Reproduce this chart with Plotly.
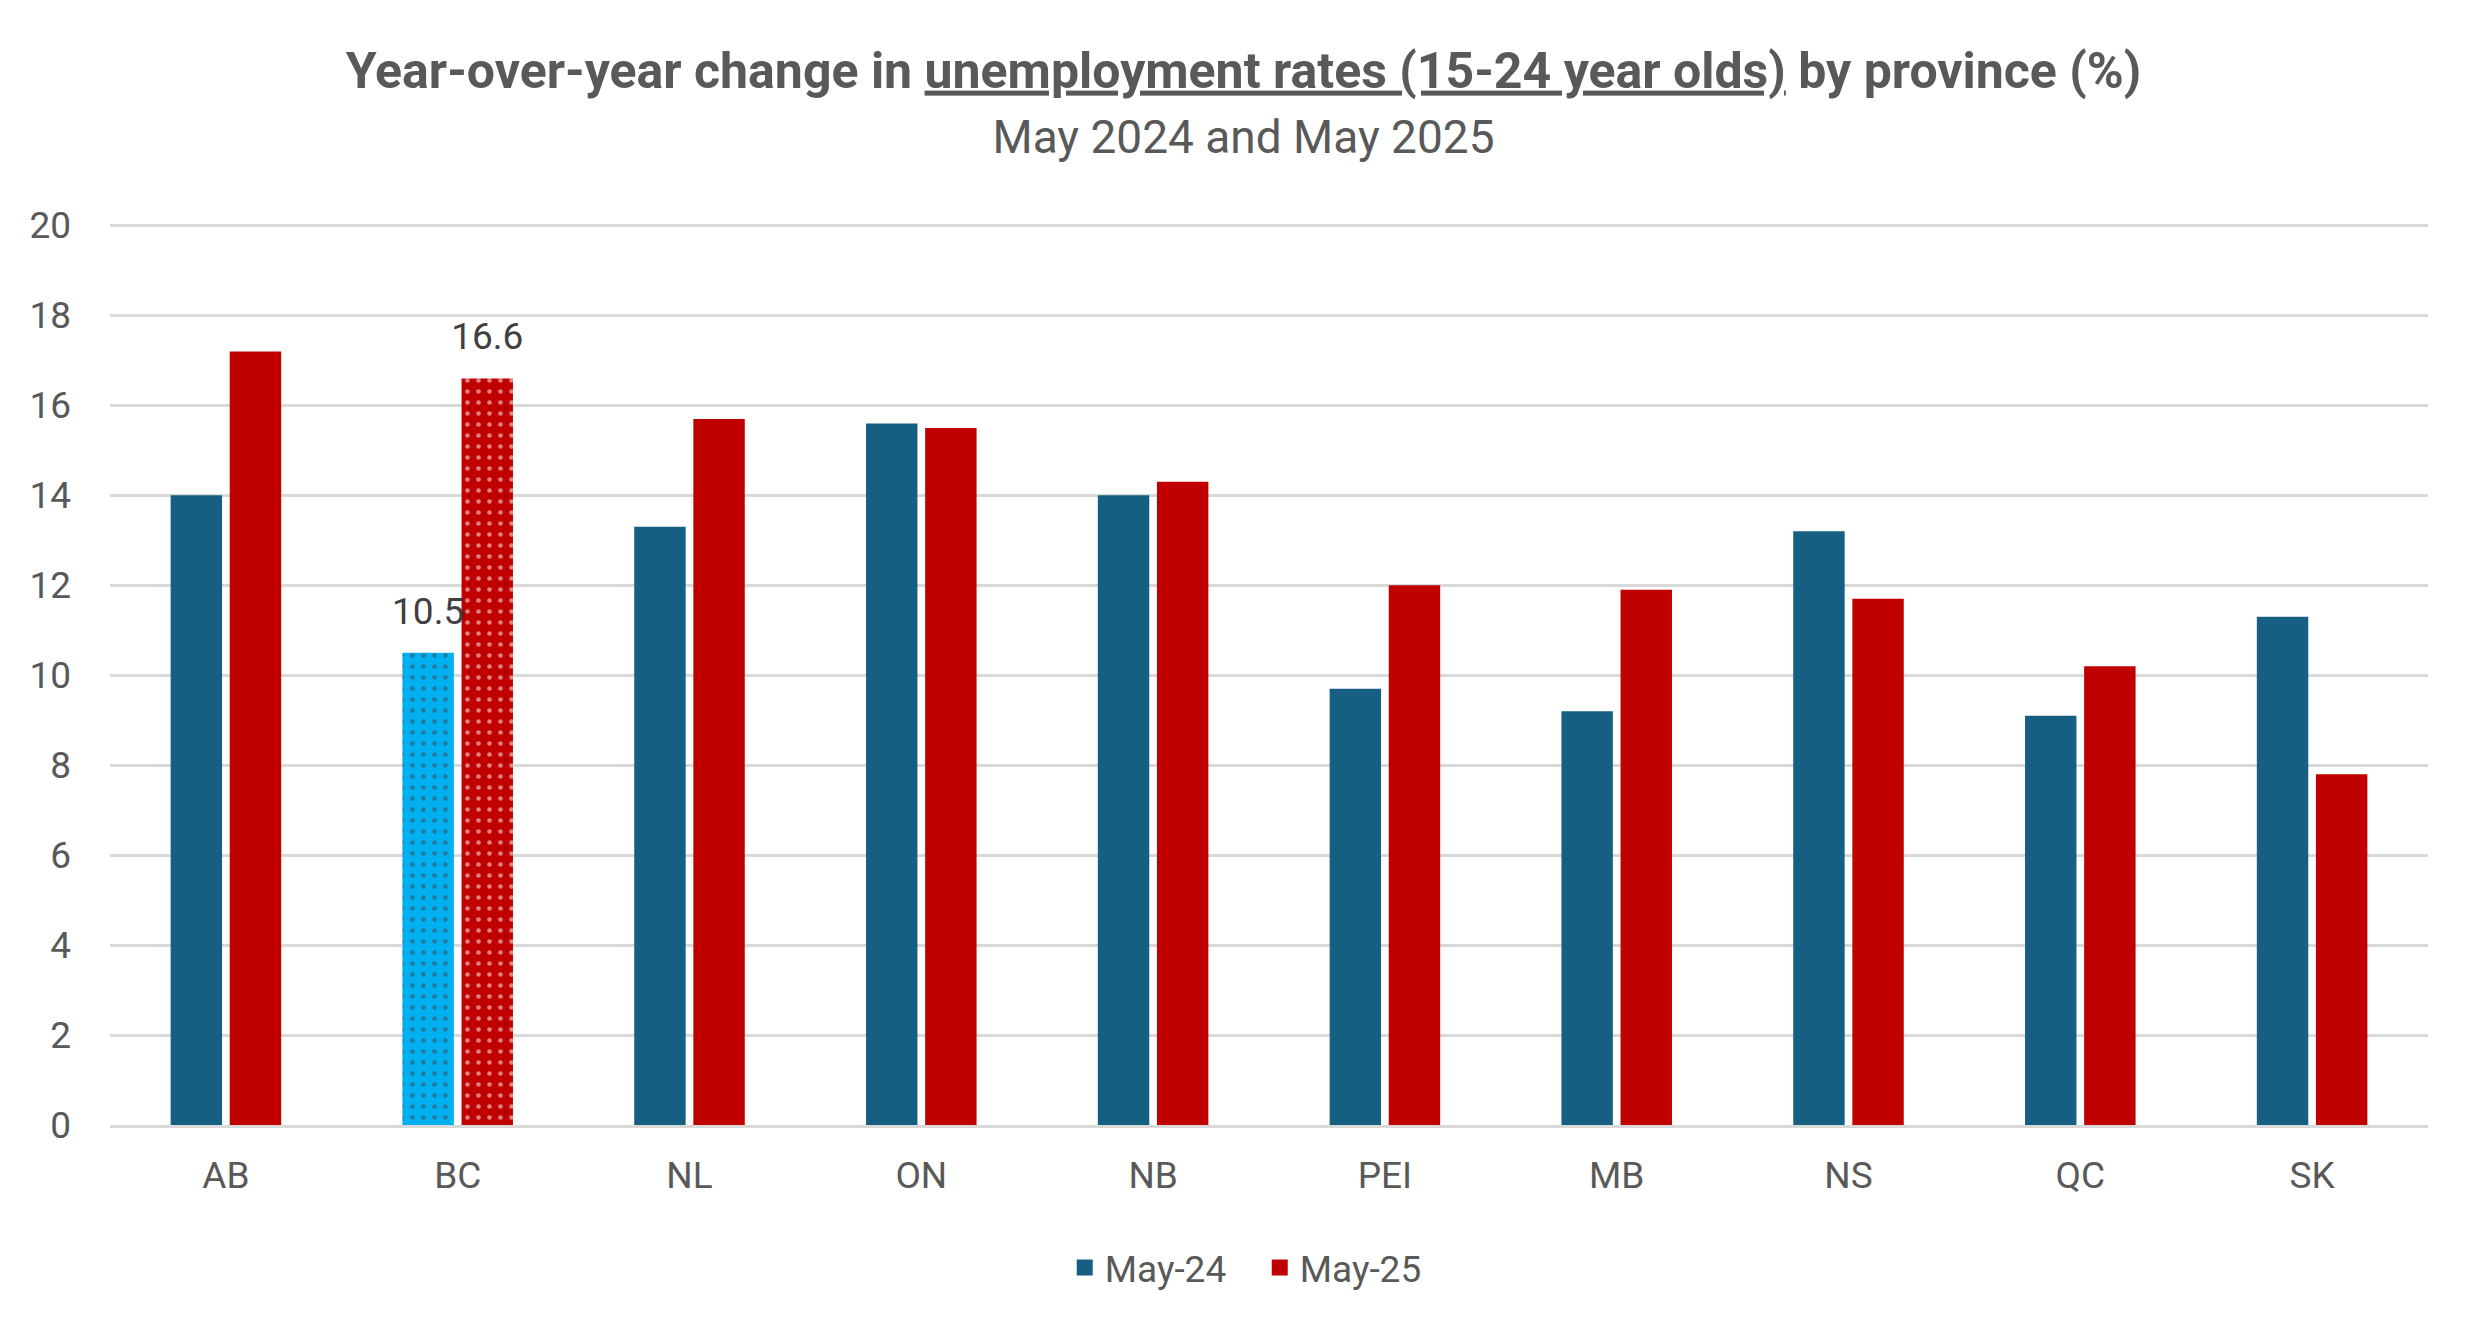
import plotly.graph_objects as go

provinces = ["AB", "BC", "NL", "ON", "NB", "PEI", "MB", "NS", "QC", "SK"]
may_24 = [14.0, 10.5, 13.3, 15.6, 14.0, 9.7, 9.2, 13.2, 9.1, 11.3]
may_25 = [17.2, 16.6, 15.7, 15.5, 14.3, 12.0, 11.9, 11.7, 10.2, 7.8]
labelled = ["BC"]

BLUE = "#156082"
RED = "#C00000"
LIGHT_BLUE = "#00B0F0"
GREY = "#595959"


def colours(base, highlight):
    return [highlight if p in labelled else base for p in provinces]


def shapes():
    return ["." if p in labelled else "" for p in provinces]


def labels(values):
    return [f"{v:.1f}" if p in labelled else "" for p, v in zip(provinces, values)]


fig = go.Figure()

for name, values, base, hi, grp in [
    ("May-24", may_24, BLUE, LIGHT_BLUE, "a"),
    ("May-25", may_25, RED, RED, "b"),
]:
    fig.add_trace(go.Bar(
        name=name, x=provinces, y=values, offsetgroup=grp, showlegend=False,
        marker=dict(color=colours(base, hi), line=dict(width=0),
                    pattern=dict(shape=shapes(), fillmode="overlay",
                                 fgcolor="white", size=11, solidity=0.14)),
        hoverinfo="skip",
    ))
    # data labels sit above the bars, offset like the bars
    fig.add_trace(go.Scatter(
        x=provinces, y=values, offsetgroup=grp, mode="markers+text",
        text=labels(values), textposition="top center",
        textfont=dict(family="Roboto", size=37, color="#404040"),
        marker=dict(size=30, opacity=0), showlegend=False, hoverinfo="skip",
        cliponaxis=False,
    ))
    # legend entry with a bigger square than the bar legend gives
    fig.add_trace(go.Scatter(
        name=name, x=[None], y=[None], mode="markers",
        marker=dict(symbol="square", size=16, color=base), hoverinfo="skip",
    ))

title = ("<b>Year-over-year change in <u>unemployment rates (15-24 year olds)</u>"
         " by province (%)</b><br><span style='font-size:46px'>May 2024 and May 2025</span>")

fig.update_layout(
    width=2471, height=1327,
    paper_bgcolor="white", plot_bgcolor="white",
    margin=dict(l=102, r=51, t=213, b=210),
    barmode="group", bargap=0.49, bargroupgap=0.13,
    scattermode="group", scattergap=0.49,
    title=dict(text=title, x=0.5, xanchor="center", yref="container", y=0.940, yanchor="top",
               font=dict(family="Roboto", size=50, color=GREY)),
    font=dict(family="Roboto", size=37, color=GREY),
    legend=dict(orientation="h", x=0.496, xanchor="center", y=-0.158, yanchor="middle",
                font=dict(family="Roboto", size=37, color=GREY), itemclick=False,
                itemwidth=30, entrywidth=150),
    xaxis=dict(showgrid=False, showline=True, linecolor="#D9D9D9", linewidth=2.5,
               ticks="", ticklabelstandoff=16, tickfont=dict(size=37, color=GREY)),
    yaxis=dict(range=[0, 20.1], tickvals=list(range(0, 21, 2)), showgrid=True,
               gridcolor="#D9D9D9", gridwidth=2.5,
               zeroline=False, showline=False, ticks="", ticklabelstandoff=38,
               tickfont=dict(size=37, color=GREY)),
)

fig.write_html("out.html")
